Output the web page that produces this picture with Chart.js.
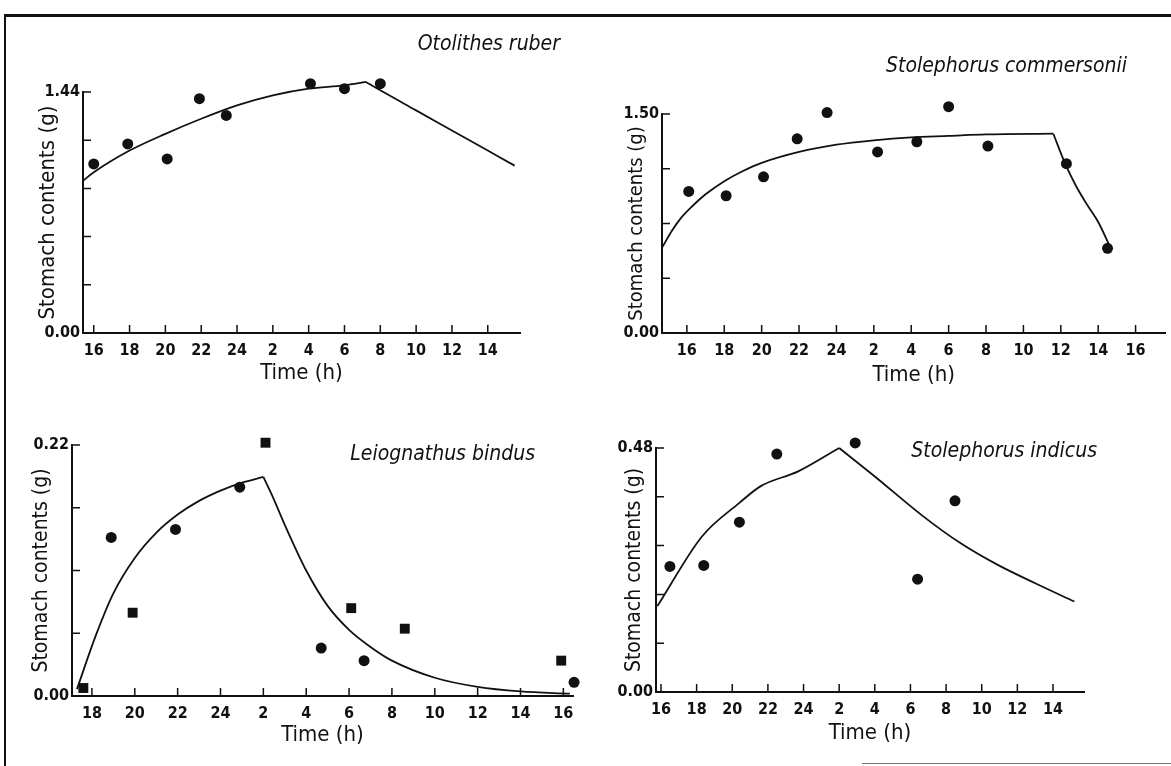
<!DOCTYPE html>
<html>
<head>
<meta charset="utf-8">
<title>Stomach contents</title>
<script src="https://cdn.jsdelivr.net/npm/chart.js@4.4.1/dist/chart.umd.min.js"></script>
<style>
  body { margin: 0; background: #fff; width: 1171px; height: 766px; overflow: hidden; position: relative; }
  canvas { position: absolute; }
  .frame { position: absolute; left: 4px; top: 14px; width: 1175px; height: 770px; border-top: 3px solid #111; border-left: 2px solid #111; }
  .foot { position: absolute; left: 862px; top: 763px; width: 309px; border-top: 1px solid #777; }
</style>
</head>
<body>
<div class="frame"></div>
<div class="foot"></div>
<canvas id="chart1" width="585" height="400" style="left:0;top:0"></canvas>
<canvas id="chart2" width="586" height="400" style="left:585px;top:0"></canvas>
<canvas id="chart3" width="585" height="366" style="left:0;top:400px"></canvas>
<canvas id="chart4" width="586" height="366" style="left:585px;top:400px"></canvas>
<script>
// time is hours from midnight of the first day (26 = 2 h next day)

// Otolithes ruber
const orTime = [16.0, 17.9, 20.1, 21.9, 23.4, 28.1, 30.0, 32.0];
const orValue = [1.01, 1.13, 1.04, 1.40, 1.30, 1.49, 1.46, 1.49];
const orRiseX = [15.4, 16, 18, 20, 22, 24, 26, 28, 30, 31.2];
const orRiseY = [0.91, 0.96, 1.09, 1.19, 1.28, 1.36, 1.42, 1.46, 1.48, 1.50];
const orFallX = [31.2, 32, 34, 36, 38, 39.5];
const orFallY = [1.50, 1.45, 1.33, 1.21, 1.09, 1.00];
const orTicksX = [16, 18, 20, 22, 24, 26, 28, 30, 32, 34, 36, 38];
const orTicksY = [0, 0.288, 0.576, 0.864, 1.152, 1.44];

// Stolephorus commersonii
const scTime = [16.1, 18.1, 20.1, 21.9, 23.5, 26.2, 28.3, 30.0, 32.1, 36.3, 38.5];
const scValue = [0.97, 0.94, 1.07, 1.33, 1.51, 1.24, 1.31, 1.55, 1.28, 1.16, 0.58];
const scRiseX = [14.7, 15.2, 15.7, 16.3, 17, 18, 19, 20, 22, 24, 26, 28, 30, 32, 35.6];
const scRiseY = [0.59, 0.70, 0.79, 0.87, 0.95, 1.04, 1.11, 1.165, 1.24, 1.29, 1.32, 1.34, 1.35, 1.36, 1.365];
const scFallX = [35.6, 36.2, 36.8, 37.4, 38.0, 38.6];
const scFallY = [1.365, 1.17, 1.01, 0.88, 0.76, 0.60];
const scTicksX = [16, 18, 20, 22, 24, 26, 28, 30, 32, 34, 36, 38, 40];
const scTicksY = [0, 0.375, 0.75, 1.125, 1.5];

// Leiognathus bindus (two series: squares and circles)
const lbSquareTime = [17.6, 19.9, 26.1, 30.1, 32.6, 39.9];
const lbSquareValue = [0.007, 0.073, 0.222, 0.077, 0.059, 0.031];
const lbCircleTime = [18.9, 21.9, 24.9, 28.7, 30.7, 40.5];
const lbCircleValue = [0.139, 0.146, 0.183, 0.042, 0.031, 0.012];
const lbRiseX = [17.3, 18.2, 19.0, 20.0, 21.0, 22.0, 23.0, 24.0, 25.0, 26.0];
const lbRiseY = [0.006, 0.054, 0.090, 0.121, 0.143, 0.159, 0.171, 0.180, 0.187, 0.192];
const lbFallX = [26.0, 26.5, 27.0, 28.0, 29.0, 30.0, 31.0, 32.0, 34.0, 36.0, 38.0, 40.3];
const lbFallY = [0.192, 0.172, 0.150, 0.110, 0.079, 0.058, 0.043, 0.031, 0.016, 0.008, 0.004, 0.002];
const lbTicksX = [18, 20, 22, 24, 26, 28, 30, 32, 34, 36, 38, 40];
const lbTicksY = [0, 0.055, 0.11, 0.165, 0.22];

// Stolephorus indicus
const siTime = [16.5, 18.4, 20.4, 22.5, 26.9, 30.4, 32.5];
const siValue = [0.247, 0.249, 0.334, 0.468, 0.490, 0.222, 0.376];
const siRiseX = [15.8, 18.3, 20.4, 21.6, 23.7, 26.0];
const siRiseY = [0.169, 0.306, 0.372, 0.405, 0.434, 0.480];
const siFallX = [26.0, 28.0, 30.7, 32.8, 34.9, 37.0, 39.2];
const siFallY = [0.480, 0.424, 0.346, 0.293, 0.250, 0.214, 0.178];
const siTicksX = [16, 18, 20, 22, 24, 26, 28, 30, 32, 34, 36, 38];
const siTicksY = [0, 0.096, 0.192, 0.288, 0.384, 0.48];

const FONT = "'Liberation Sans Narrow', 'DejaVu Sans Condensed', 'Arial Narrow', Arial, sans-serif";
const INK = '#111';

function xy(xs, ys) {
    return xs.map((x, i) => ({ x: x, y: ys[i] }));
}

function hourLabel(v) {
    return String(v > 24 ? v - 24 : v);
}

function dots(xs, ys, style) {
    return {
        data: xy(xs, ys),
        showLine: false,
        pointStyle: style || 'circle',
        pointRadius: style === 'rect' ? 7 : 5.5,
        pointBackgroundColor: INK,
        pointBorderWidth: 0,
        clip: false
    };
}

function curve(xs, ys) {
    return {
        data: xy(xs, ys),
        showLine: true,
        pointRadius: 0,
        borderColor: INK,
        borderWidth: 1.8,
        cubicInterpolationMode: 'monotone',
        clip: false
    };
}

// species name in italics
const panelTitle = {
    id: 'panelTitle',
    afterDraw(chart, args, opts) {
        const ctx = chart.ctx;
        ctx.save();
        ctx.font = `italic 21px ${FONT}`;
        ctx.fillStyle = INK;
        ctx.textAlign = 'right';
        ctx.textBaseline = 'middle';
        ctx.fillText(opts.text, opts.x, opts.y);
        ctx.restore();
    }
};

// points above the top tick would be culled, so widen the area while datasets draw
const looseArea = {
    id: 'looseArea',
    beforeDatasetsDraw(chart) {
        chart.$area = { top: chart.chartArea.top, right: chart.chartArea.right };
        chart.chartArea.top -= 30;
        chart.chartArea.right += 15;
    },
    afterDatasetsDraw(chart) {
        chart.chartArea.top = chart.$area.top;
        chart.chartArea.right = chart.$area.right;
    }
};

// tick marks pointing into the plot
const inwardTicks = {
    id: 'inwardTicks',
    afterDraw(chart) {
        const { ctx, chartArea, scales } = chart;
        ctx.save();
        ctx.strokeStyle = INK;
        ctx.lineWidth = 1.5;
        ctx.beginPath();
        scales.x.ticks.forEach(t => {
            const px = scales.x.getPixelForValue(t.value);
            ctx.moveTo(px, chartArea.bottom);
            ctx.lineTo(px, chartArea.bottom - 8);
        });
        scales.y.ticks.forEach(t => {
            const py = scales.y.getPixelForValue(t.value);
            ctx.moveTo(chartArea.left, py);
            ctx.lineTo(chartArea.left + 8, py);
        });
        ctx.stroke();
        ctx.restore();
    }
};

function makePanel(id, p) {
    return new Chart(document.getElementById(id), {
        type: 'scatter',
        data: { datasets: p.datasets },
        options: {
            responsive: false,
            animation: false,
            layout: { padding: p.pad },
            plugins: {
                legend: { display: false },
                tooltip: { enabled: false },
                panelTitle: p.title
            },
            scales: {
                x: {
                    type: 'linear',
                    min: p.xMin,
                    max: p.xMax,
                    afterBuildTicks: s => { s.ticks = p.xTicks.map(v => ({ value: v })); },
                    afterFit: s => { s.height = p.xH; },
                    grid: { display: false, drawTicks: false },
                    border: { color: INK, width: 2 },
                    ticks: {
                        callback: v => hourLabel(v),
                        autoSkip: false,
                        maxRotation: 0,
                        padding: 8,
                        color: INK,
                        font: { family: FONT, size: 16, weight: 'bold' }
                    },
                    title: {
                        display: true,
                        text: 'Time (h)',
                        color: INK,
                        font: { family: FONT, size: 22 },
                        padding: { top: 0, bottom: p.xTitlePad }
                    }
                },
                y: {
                    type: 'linear',
                    min: 0,
                    max: p.yMax,
                    afterBuildTicks: s => { s.ticks = p.yTicks.map(v => ({ value: v })); },
                    afterFit: s => { s.width = p.yW; },
                    grid: { display: false, drawTicks: false },
                    border: { color: INK, width: 2 },
                    ticks: {
                        callback: (v, i, ticks) => (i === 0 || i === ticks.length - 1) ? v.toFixed(2) : '',
                        autoSkip: false,
                        padding: 3,
                        color: INK,
                        font: { family: FONT, size: 16, weight: 'bold' }
                    },
                    title: {
                        display: true,
                        text: 'Stomach contents (g)',
                        color: INK,
                        font: { family: FONT, size: p.yTitleSize },
                        padding: { top: p.yTitlePad, bottom: 0 }
                    }
                }
            }
        },
        plugins: [panelTitle, looseArea, inwardTicks]
    });
}

makePanel('chart1', {
    datasets: [dots(orTime, orValue), curve(orRiseX, orRiseY), curve(orFallX, orFallY)],
    xMin: 15.4, xMax: 39.8, xTicks: orTicksX,
    yMax: 1.44, yTicks: orTicksY,
    pad: { left: 4, top: 92, right: 65, bottom: 0 },
    yW: 79, xH: 67, xTitlePad: 14, yTitleSize: 22, yTitlePad: 31,
    title: { text: 'Otolithes ruber', x: 560, y: 45 }
});

makePanel('chart2', {
    datasets: [dots(scTime, scValue), curve(scRiseX, scRiseY), curve(scFallX, scFallY)],
    xMin: 14.67, xMax: 41.6, xTicks: scTicksX,
    yMax: 1.5, yTicks: scTicksY,
    pad: { left: 4, top: 114, right: 4, bottom: 0 },
    yW: 73, xH: 67, xTitlePad: 12, yTitleSize: 20, yTitlePad: 36,
    title: { text: 'Stolephorus commersonii', x: 542, y: 67 }
});

makePanel('chart3', {
    datasets: [
        dots(lbSquareTime, lbSquareValue, 'rect'),
        dots(lbCircleTime, lbCircleValue),
        curve(lbRiseX, lbRiseY),
        curve(lbFallX, lbFallY)
    ],
    xMin: 17.07, xMax: 40.45, xTicks: lbTicksX,
    yMax: 0.22, yTicks: lbTicksY,
    pad: { left: 4, top: 45, right: 12, bottom: 0 },
    yW: 68, xH: 70, xTitlePad: 18, yTitleSize: 21, yTitlePad: 25,
    title: { text: 'Leiognathus bindus', x: 535, y: 55 }
});

makePanel('chart4', {
    datasets: [dots(siTime, siValue), curve(siRiseX, siRiseY), curve(siFallX, siFallY)],
    xMin: 15.72, xMax: 39.74, xTicks: siTicksX,
    yMax: 0.48, yTicks: siTicksY,
    pad: { left: 4, top: 48, right: 87, bottom: 0 },
    yW: 67, xH: 74, xTitlePad: 20, yTitleSize: 21, yTitlePad: 33,
    title: { text: 'Stolephorus indicus', x: 512, y: 52 }
});
</script>
</body>
</html>
